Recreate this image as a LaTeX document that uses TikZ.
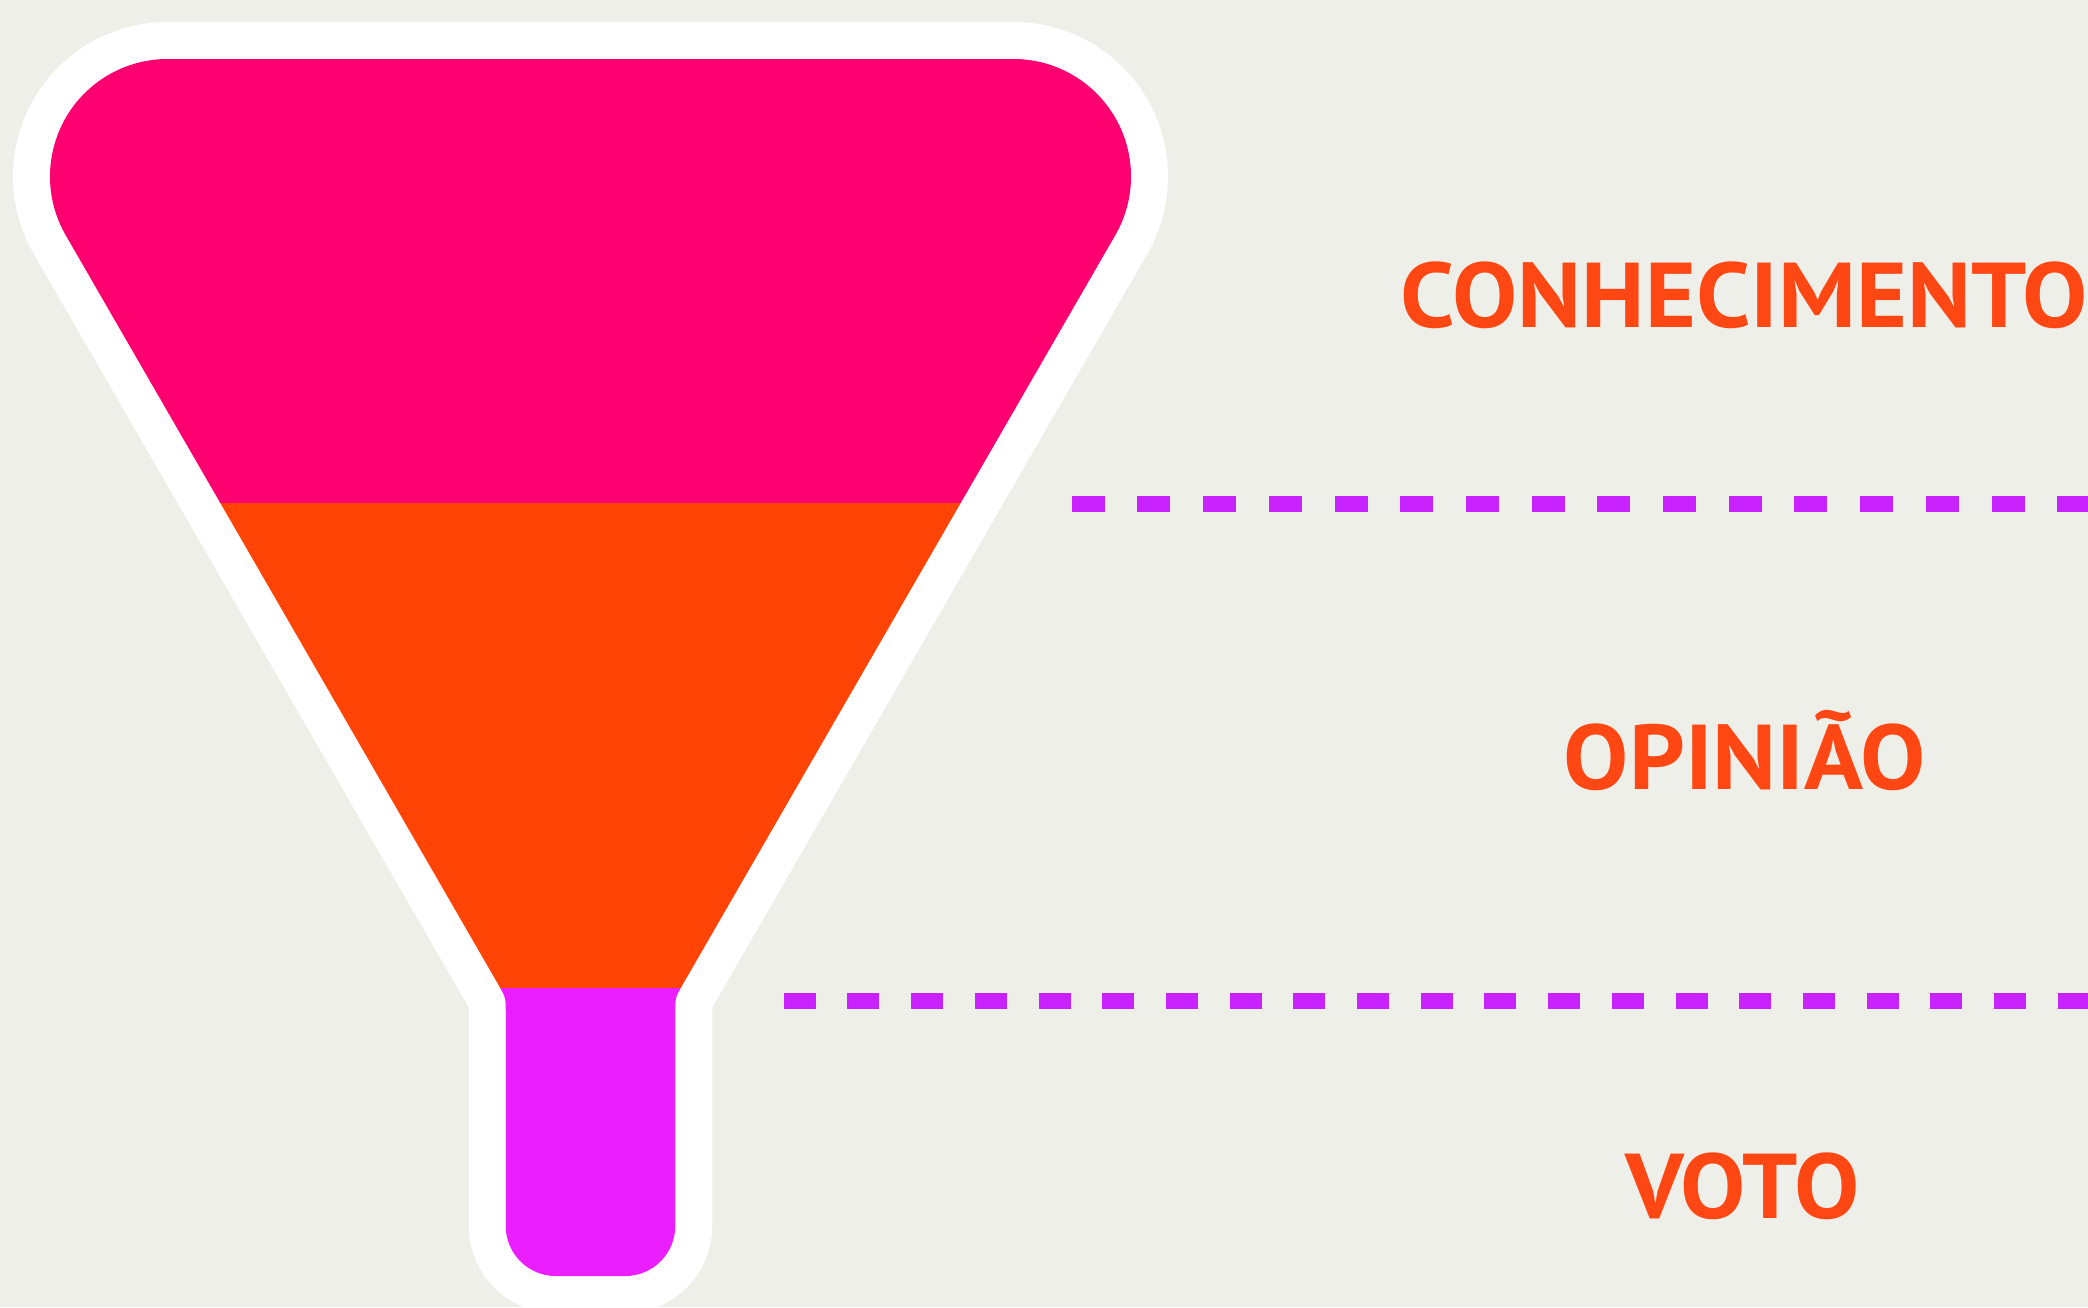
\documentclass[tikz,border=0pt]{standalone}
\usepackage{graphicx}
\usepackage{fontspec}
\setmainfont{PT Sans}
\definecolor{bgcol}{HTML}{EFEFE9}
\definecolor{pinkcol}{HTML}{FF0070}
\definecolor{orangecol}{HTML}{FF4405}
\definecolor{magcol}{HTML}{EB1EFF}
\definecolor{dashcol}{HTML}{C822FF}
\definecolor{txtcol}{HTML}{FF4713}
\def\funnelpath{(167.5,-59) -- (1013.5,-59) arc[start angle=90,end angle=-30,radius=117.5] -- (683.25,-983.6) .. controls (675.25,-997.4) .. (675.25,-1013.4) -- (675.25,-1226) arc[start angle=0,end angle=-90,radius=50] -- (555.75,-1276) arc[start angle=270,end angle=180,radius=50] -- (505.75,-1013.4) .. controls (505.75,-997.4) .. (497.75,-983.6) -- (65.74,-235.25) arc[start angle=210,end angle=90,radius=117.5] -- cycle}
\newcommand{\stagetext}[1]{\scalebox{1.06}[1]{#1}}
\begin{document}
\begin{tikzpicture}[x=0.5pt,y=0.5pt,
  stagelabel/.style={text=txtcol, font=\bfseries\fontsize{46}{46}\selectfont, anchor=base, inner sep=0pt},
  dashline/.style={draw=dashcol, line width=8pt, line cap=butt}]
\useasboundingbox (0,0) rectangle (2088,-1307);
\fill[bgcol] (0,0) rectangle (2088,-1307);
\draw[white, line width=37pt, line join=round] \funnelpath;
\begin{scope}
  \clip \funnelpath;
  \fill[pinkcol] (0,0) rectangle (1300,-503);
  \fill[orangecol] (0,-503) rectangle (1300,-988);
  \fill[magcol] (0,-988) rectangle (1300,-1320);
\end{scope}
\coordinate (d1s) at (1071.7,-504);
\coordinate (d1e) at (2090,-504);
\coordinate (d2s) at (783.7,-1001.3);
\coordinate (d2e) at (2090,-1001.3);
\draw[dashline, dash pattern=on 16.5pt off 16.35pt] (d1s) -- (d1e);
\draw[dashline, dash pattern=on 16pt off 15.85pt] (d2s) -- (d2e);
\node[stagelabel] (conh) at (1744.5,-327) {\stagetext{CONHECIMENTO}};
\node[stagelabel] (opin) at (1745,-789) {\stagetext{OPINIÃO}};
\node[stagelabel] (voto) at (1742.5,-1218) {\stagetext{VOTO}};
\end{tikzpicture}
\end{document}
